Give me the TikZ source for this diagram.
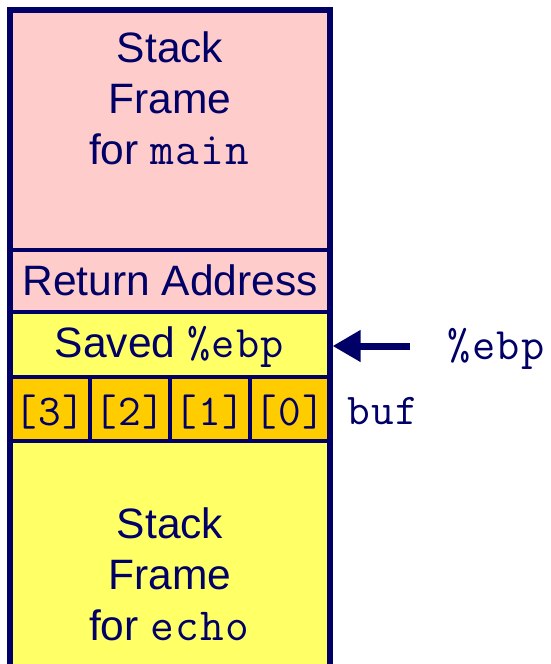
\documentclass[tikz,border=0pt]{standalone}
\usepackage{fontspec}
\setmainfont{Liberation Sans}
\setmonofont{Latin Modern Mono}[LetterSpace=3]
\usetikzlibrary{arrows.meta}
\definecolor{navy}{RGB}{0,0,102}
\definecolor{pinkfill}{RGB}{255,204,204}
\definecolor{yellowfill}{RGB}{255,255,102}
\definecolor{orangefill}{RGB}{255,204,0}
\begin{document}
\begin{tikzpicture}[x=1pt,y=-1pt,
  cell/.style={draw=navy, line width=4pt, inner sep=0pt, outer sep=0pt, minimum width=320pt},
  bufcell/.style={draw=navy, line width=4pt, inner sep=0pt, outer sep=0pt, fill=orangefill, minimum width=80pt, minimum height=64pt},
  sans/.style={text=navy, font=\fontsize{42.5}{51}\selectfont, inner sep=0pt, align=center},
  mono/.style={text=navy, font=\ttfamily\fontsize{44}{48}\selectfont, inner sep=0pt},
  ptr/.style={draw=navy, line width=7pt, -{Triangle[length=28pt,width=30pt]}}]
\useasboundingbox (0,0) rectangle (550,664);
\clip (0,0) rectangle (550,664);
% cells
\node[cell, fill=pinkfill, minimum height=240pt] (main) at (170,130) {};
\node[cell, fill=pinkfill, minimum height=62pt] (ret) at (170,281) {};
\node[cell, fill=yellowfill, minimum height=65pt] (saved) at (170,344.5) {};
\node[bufcell] (b3) at (50,409) {};
\node[bufcell] (b2) at (130,409) {};
\node[bufcell] (b1) at (210,409) {};
\node[bufcell] (b0) at (290,409) {};
\node[cell, fill=yellowfill, minimum height=270pt] (echo) at (170,576) {};
% outer frame
\draw[navy, line width=5.5pt] (10,720) -- (10,10) -- (330,10) -- (330,720);
% texts
\node[sans] (maintxt) at (170,98) {Stack\\Frame\\for \texttt{\fontsize{46}{51}\selectfont main}};
\node[sans, anchor=base] (rettxt) at (170,295) {Return Address};
\node[sans, anchor=base] (savedtxt) at (170,357) {Saved \texttt{\fontsize{45}{51}\selectfont\%ebp}};
\node[mono, anchor=base] (t3) at (b3 |- 0,425) {[3]};
\node[mono, anchor=base] (t2) at (b2 |- 0,425) {[2]};
\node[mono, anchor=base] (t1) at (b1 |- 0,425) {[1]};
\node[mono, anchor=base] (t0) at (b0 |- 0,425) {[0]};
\node[sans] (echotxt) at (170,574) {Stack\\Frame\\for \texttt{\fontsize{46}{51}\selectfont echo}};
\node[mono, anchor=base west] (buf) at (347,424) {buf};
\node[mono, anchor=base, font=\ttfamily\fontsize{45}{48}\selectfont] (ebp) at (496,359) {\%ebp};
% pointer
\coordinate (ptrstart) at (410,346);
\draw[ptr] (ptrstart) -- ([xshift=2.5pt]saved.east |- ptrstart);
\end{tikzpicture}
\end{document}
